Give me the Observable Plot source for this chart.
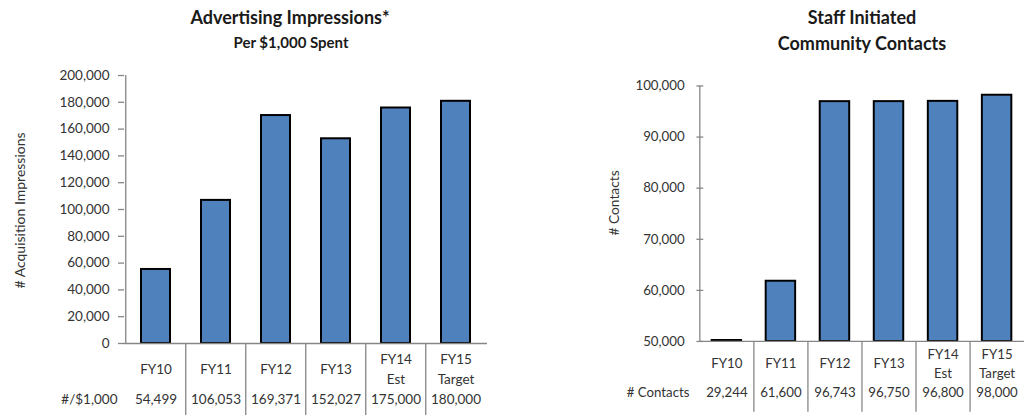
<!DOCTYPE html>
<html>
<head>
<meta charset="utf-8">
<script src="https://cdn.jsdelivr.net/npm/d3@7"></script>
<script src="https://cdn.jsdelivr.net/npm/@observablehq/plot@0.6"></script>
<style>
  html, body { margin: 0; padding: 0; background: #fff; overflow: hidden; }
  #wrap { position: relative; width: 1031px; height: 418px; overflow: hidden; font-family: Lato, "Open Sans", sans-serif; }
  .panel { position: absolute; top: 0; }
  .title { position: absolute; text-align: center; font-weight: bold; color: #1a1a1a; white-space: nowrap; transform: translateX(-50%); line-height: 1.2; }
</style>
</head>
<body>
<div id="wrap">
  <div class="title" style="left:290px; top:7px; font-size:18px;">Advertising Impressions*</div>
  <div class="title" style="left:291px; top:33px; font-size:15px;">Per $1,000 Spent</div>
  <div class="title" style="left:862px; top:7px; font-size:18px;">Staff Initiated</div>
  <div class="title" style="left:862px; top:33px; font-size:18px;">Community Contacts</div>
  <div class="panel" id="left" style="left:0px;"></div>
  <div class="panel" id="right" style="left:520px;"></div>
</div>
<script>
// ---- data ----
const categories = ["FY10", "FY11", "FY12", "FY13", "FY14 Est", "FY15 Target"];
const categoryLabels = ["FY10", "FY11", "FY12", "FY13", "FY14\nEst", "FY15\nTarget"];
const impressions = [54499, 106053, 169371, 152027, 175000, 180000];
const contacts = [29244, 61600, 96743, 96750, 96800, 98000];
const impressionTicks = [0, 20000, 40000, 60000, 80000, 100000, 120000, 140000, 160000, 180000, 200000];
const contactTicks = [50000, 60000, 70000, 80000, 90000, 100000];

const fmt = d3.format(",");
const FILL = "#4f81bd";
const AXIS = "#868686";
const TEXT = "#333333";
const FONT = "Lato, 'Open Sans', sans-serif";

function chart({values, ticks, domain, yLabel, rowLabel, width, height, ml, mr, mt, mb,
                pInner, tickSide, tickPad, labelDx, labelDy, rowDx, catDy, valDy, divLen}) {
  const table = categories.map((c, i) => ({cat: c, label: categoryLabels[i], value: values[i]}));
  const step = (width - ml - mr) / categories.length;
  const marks = [
    Plot.barY(table, {x: "cat", y: "value", fill: FILL, stroke: "#000", strokeWidth: 2, insetTop: -1}),
    // axis lines
    Plot.ruleY([domain[0]], {stroke: AXIS, strokeWidth: 1.3}),
    Plot.ruleX([categories[0]], {dx: -step / 2, stroke: AXIS, strokeWidth: 1.3}),
    // y ticks
    Plot.axisY({ticks, tickSize: tickSide === "cross" ? 7 : 6, dx: tickSide === "cross" ? 3.5 : 0,
                tickFormat: () => "", stroke: AXIS, strokeWidth: 1.3, label: null}),
    Plot.axisY({ticks, tickSize: 0, tickPadding: tickPad, tickFormat: fmt, fontSize: 13.5, fill: TEXT, label: null}),
    // y label
    Plot.text([yLabel], {frameAnchor: "left", textAnchor: "middle", dx: labelDx, dy: labelDy, rotate: -90, fontSize: 14, fill: TEXT}),
    // table dividers
    Plot.ruleX(categories.slice(1), {x: d => d, y1: domain[0], y2: domain[0], dx: -step / 2,
                insetBottom: -divLen, stroke: AXIS, strokeWidth: 1.3}),
    // category labels
    Plot.text(table, {x: "cat", text: "label", frameAnchor: "bottom", dy: catDy, lineAnchor: "middle",
                lineHeight: 1.5, fontSize: 13.5, fill: TEXT}),
    // values row
    Plot.text(table, {x: "cat", text: d => fmt(d.value), frameAnchor: "bottom", dy: valDy, fontSize: 13.5, fill: TEXT}),
    Plot.text([rowLabel], {frameAnchor: "bottom-left", dx: rowDx, dy: valDy, textAnchor: "end", fontSize: 13.5, fill: TEXT})
  ];
  return Plot.plot({
    width, height,
    marginLeft: ml, marginRight: mr, marginTop: mt, marginBottom: mb,
    style: {fontFamily: FONT, background: "transparent", overflow: "visible"},
    x: {domain: categories, paddingInner: pInner, paddingOuter: pInner / 2, axis: null},
    y: {domain, clamp: true, axis: null},
    marks
  });
}

document.getElementById("left").appendChild(chart({
  values: impressions, ticks: impressionTicks, domain: [0, 200000],
  yLabel: "# Acquisition Impressions", rowLabel: "#/$1,000",
  width: 520, height: 418, ml: 124, mr: 33, mt: 75, mb: 75,
  pInner: 0.52, tickSide: "out", tickPad: 15, labelDx: -104, labelDy: 1,
  rowDx: -7, catDy: 24, valDy: 60, divLen: 72
}));

document.getElementById("right").appendChild(chart({
  values: contacts, ticks: contactTicks, domain: [50000, 100000],
  yLabel: "# Contacts", rowLabel: "# Contacts",
  width: 520, height: 418, ml: 183, mr: 7, mt: 87, mb: 71,
  pInner: 0.45, tickSide: "cross", tickPad: 16, labelDx: -87, labelDy: -11,
  rowDx: -11, catDy: 21, valDy: 57, divLen: 72
}));
</script>
</body>
</html>
